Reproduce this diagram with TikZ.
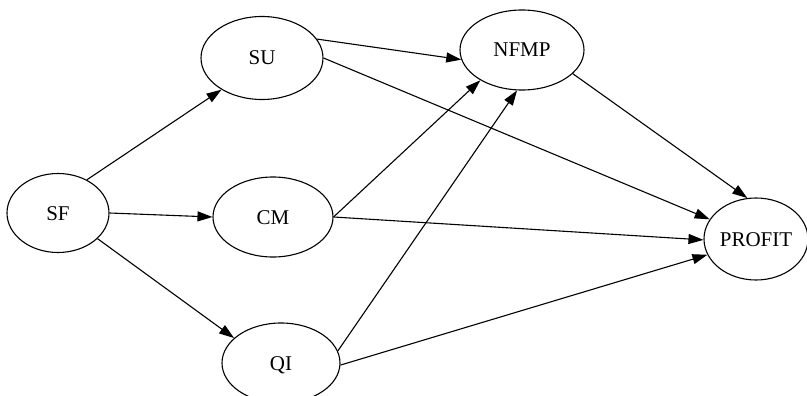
\documentclass[tikz,border=0pt]{standalone}
\usepackage{fontspec}
\setmainfont{Liberation Serif}
\usetikzlibrary{shapes.geometric,arrows.meta}
\begin{document}
\begin{tikzpicture}[x=1pt,y=-1pt,
  nd/.style={draw,ellipse,line width=1.1pt,inner sep=0pt,
    font=\fontsize{21}{25}\selectfont,text height=14pt,text depth=0pt},
  edge/.style={line width=1.1pt,-{Triangle[length=15pt,width=10pt]}}]
\useasboundingbox (0,0) rectangle (807,396);
\node[nd,minimum width=102pt,minimum height=79pt] (SF) at (58,213) {SF};
\node[nd,minimum width=122pt,minimum height=83pt] (SU) at (262,58) {SU};
\node[nd,minimum width=120pt,minimum height=80pt] (CM) at (273,217) {CM};
\node[nd,minimum width=118pt,minimum height=80pt] (QI) at (281,363) {QI};
\node[nd,minimum width=124pt,minimum height=80pt] (NFMP) at (522,50) {NFMP};
\node[nd,minimum width=104pt,minimum height=82pt] (PROFIT) at (756,239) {PROFIT};
\draw[edge] (SF.49.7) -- (SU.218.7);
\draw[edge] (SF.0) -- (CM.180);
\draw[edge] (SF.-33.7) -- (QI.152.5);
\draw[edge] (SU.19.7) -- (NFMP.189.5);
\draw[edge] (SU.0) -- (PROFIT.157.6);
\draw[edge] (CM.0) -- (NFMP.216.2);
\draw[edge] (CM.0) -- (PROFIT.181);
\draw[edge] (QI.12.8) -- (NFMP.263);
\draw[edge] (QI.-2) -- (PROFIT.198.8);
\draw[edge] (NFMP.-25.2) -- (PROFIT.102.4);
\end{tikzpicture}
\end{document}
